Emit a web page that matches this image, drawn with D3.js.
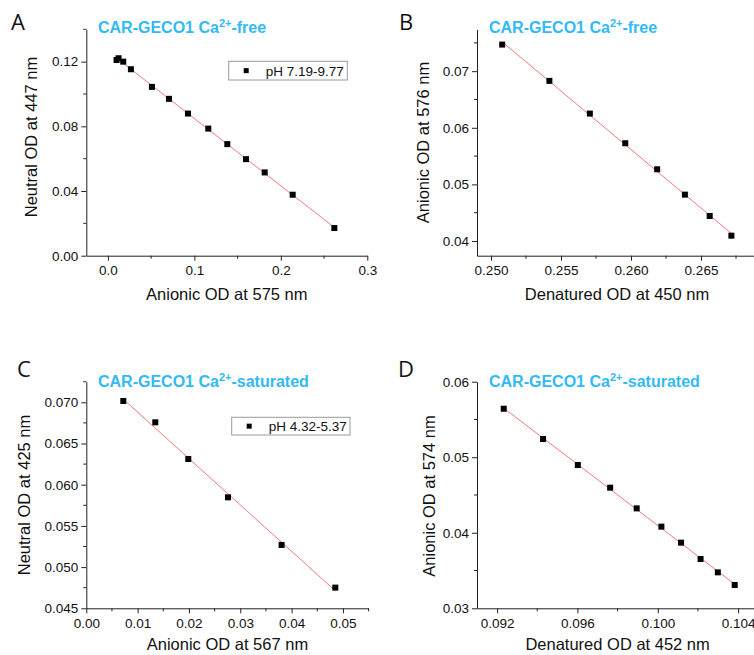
<!DOCTYPE html>
<html>
<head>
<meta charset="utf-8">
<script src="https://cdn.jsdelivr.net/npm/d3@7"></script>
<style>
  body { margin: 0; background: #fff; }
  svg { display: block; }
  text { font-family: "Liberation Sans", Arial, sans-serif; fill: #111; }
</style>
</head>
<body>
<div id="chart"></div>
<script>
// Panel A: neutral vs anionic OD, Ca2+-free, pH 7.19-9.77
const aX = [0.0100, 0.0123, 0.0177, 0.0266, 0.0509, 0.0706, 0.0926, 0.1161, 0.1381, 0.1597, 0.1813, 0.2137, 0.2619];
const aY = [0.1210, 0.1221, 0.1200, 0.1153, 0.1044, 0.0970, 0.0879, 0.0786, 0.0690, 0.0597, 0.0515, 0.0377, 0.0171];

// Panel B: anionic vs denatured OD, Ca2+-free
const bX = [0.2508, 0.25417, 0.25706, 0.25959, 0.26187, 0.26385, 0.26562, 0.26717];
const bY = [0.0747, 0.06829, 0.06251, 0.05727, 0.05267, 0.04819, 0.04442, 0.04094];

// Panel C: neutral vs anionic OD, Ca2+-saturated, pH 4.32-5.37
const cX = [0.00721, 0.01344, 0.01987, 0.02760, 0.03805, 0.04851];
const cY = [0.07016, 0.06757, 0.06312, 0.05847, 0.05269, 0.04751];

// Panel D: anionic vs denatured OD, Ca2+-saturated
const dX = [0.09233, 0.09429, 0.09602, 0.09763, 0.09895, 0.10018, 0.10116, 0.10213, 0.10299, 0.10383];
const dY = [0.05642, 0.05241, 0.04897, 0.04597, 0.04323, 0.04081, 0.03869, 0.03653, 0.03476, 0.03309];

// tick values
const aXTicks = [0, 0.1, 0.2, 0.3], aXMinor = [0.05, 0.15, 0.25];
const aYTicks = [0, 0.04, 0.08, 0.12], aYMinor = [0.02, 0.06, 0.10, 0.14];
const bXTicks = [0.250, 0.255, 0.260, 0.265], bXMinor = [0.2525, 0.2575, 0.2625, 0.2675];
const bYTicks = [0.04, 0.05, 0.06, 0.07], bYMinor = [0.045, 0.055, 0.065, 0.075];
const cXTicks = [0, 0.01, 0.02, 0.03, 0.04, 0.05], cXMinor = [0.005, 0.015, 0.025, 0.035, 0.045, 0.055];
const cYTicks = [0.045, 0.050, 0.055, 0.060, 0.065, 0.070], cYMinor = [0.0475, 0.0525, 0.0575, 0.0625, 0.0675, 0.0725];
const dXTicks = [0.092, 0.096, 0.100, 0.104], dXMinor = [0.094, 0.098, 0.102];
const dYTicks = [0.03, 0.04, 0.05, 0.06], dYMinor = [0.035, 0.045, 0.055];

const width = 754, height = 655;
const titleColor = "#33b9f5";
const fontFam = "'Liberation Sans', Arial, sans-serif";

const svg = d3.select("#chart")
    .append("svg")
    .attr("width", width)
    .attr("height", height);

// simple least squares fit for the red line
function fitLine(xs, ys) {
    const n = xs.length;
    const mx = d3.mean(xs), my = d3.mean(ys);
    let sxy = 0, sxx = 0;
    for (let i = 0; i < n; i++) {
        sxy += (xs[i] - mx) * (ys[i] - my);
        sxx += (xs[i] - mx) * (xs[i] - mx);
    }
    const slope = sxy / sxx;
    return x => my + slope * (x - mx);
}

function drawPanel(p) {
    const g = svg.append("g");
    const x = d3.scaleLinear().domain(p.xDomain).range([p.left, p.right]);
    const y = d3.scaleLinear().domain(p.yDomain).range([p.bottom, p.top]);

    // axes, outward ticks
    const xAxis = g.append("g")
        .attr("transform", `translate(0,${p.bottom})`)
        .call(d3.axisBottom(x).tickValues(p.xTicks).tickFormat(d3.format(p.xFmt)).tickSize(5).tickSizeOuter(0));
    const yAxis = g.append("g")
        .attr("transform", `translate(${p.left},0)`)
        .call(d3.axisLeft(y).tickValues(p.yTicks).tickFormat(d3.format(p.yFmt)).tickSize(5).tickSizeOuter(0));

    [xAxis, yAxis].forEach(ax => {
        ax.attr("font-family", fontFam);
        ax.select(".domain").attr("stroke", "#222").attr("stroke-width", 1);
        ax.selectAll(".tick line").attr("stroke", "#222");
        ax.selectAll(".tick text")
            .style("font-family", fontFam)
            .style("font-size", "13.5px")
            .attr("fill", "#111");
    });
    xAxis.selectAll(".tick text").attr("dy", "1.0em").attr("y", 6);
    yAxis.selectAll(".tick text").attr("x", -8);

    // minor ticks
    g.append("g").selectAll("line")
        .data(p.xMinor)
        .join("line")
        .attr("x1", d => x(d)).attr("x2", d => x(d))
        .attr("y1", p.bottom).attr("y2", p.bottom + 3)
        .attr("stroke", "#222");
    g.append("g").selectAll("line")
        .data(p.yMinor)
        .join("line")
        .attr("y1", d => y(d)).attr("y2", d => y(d))
        .attr("x1", p.left).attr("x2", p.left - 3)
        .attr("stroke", "#222");

    // fitted line
    const f = fitLine(p.xs, p.ys);
    const x0 = d3.min(p.xs), x1 = d3.max(p.xs);
    g.append("line")
        .attr("x1", x(x0)).attr("y1", y(f(x0)))
        .attr("x2", x(x1)).attr("y2", y(f(x1)))
        .attr("stroke", "#f26a6a")
        .attr("stroke-width", 0.9);

    // points
    g.append("g").selectAll("rect")
        .data(p.xs.map((v, i) => [v, p.ys[i]]))
        .join("rect")
        .attr("x", d => x(d[0]) - 3)
        .attr("y", d => y(d[1]) - 3)
        .attr("width", 6)
        .attr("height", 6)
        .attr("fill", "#000");

    // axis titles
    g.append("text")
        .attr("x", (p.left + p.right) / 2)
        .attr("y", p.xTitleY)
        .attr("text-anchor", "middle")
        .style("font-size", "16.5px")
        .text(p.xTitle);
    g.append("text")
        .attr("transform", `translate(${p.yTitleX},${p.yTitleMid}) rotate(-90)`)
        .attr("text-anchor", "middle")
        .style("font-size", "16.5px")
        .text(p.yTitle);

    // blue title with superscript
    const t = g.append("text")
        .attr("x", p.titleX)
        .attr("y", p.titleY)
        .style("font-size", "16px")
        .style("font-weight", "bold")
        .style("fill", titleColor);
    t.append("tspan").text("CAR-GECO1 Ca");
    t.append("tspan").attr("dy", -6).style("font-size", "11px").text("2+");
    t.append("tspan").attr("dy", 6).text(p.titleTail);

    // panel letter
    g.append("text")
        .attr("x", p.letterX)
        .attr("y", p.letterY)
        .style("font-family", "'Open Sans', 'Liberation Sans', sans-serif")
        .style("font-size", "22px")
        .text(p.letter);

    // legend
    if (p.legend) {
        const L = p.legend;
        g.append("rect")
            .attr("x", L.x).attr("y", L.y)
            .attr("width", L.w).attr("height", L.h)
            .attr("fill", "#fff")
            .attr("stroke", "#9a9a9a")
            .attr("stroke-width", 1);
        g.append("rect")
            .attr("x", L.x + 15).attr("y", L.y + L.h / 2 - 2.5)
            .attr("width", 5).attr("height", 5)
            .attr("fill", "#000");
        g.append("text")
            .attr("x", L.x + 37)
            .attr("y", L.y + L.h / 2 + 5)
            .style("font-size", "13.5px")
            .text(L.text);
    }
}

drawPanel({
    letter: "A", letterX: 11, letterY: 30,
    titleX: 98, titleY: 33, titleTail: "-free",
    left: 86.3, right: 367.3, top: 29.3, bottom: 255.7,
    xDomain: [-0.025, 0.3], yDomain: [0, 0.14],
    xTicks: aXTicks, xMinor: aXMinor, xFmt: ".1f",
    yTicks: aYTicks, yMinor: aYMinor, yFmt: ".2f",
    xs: aX, ys: aY,
    xTitle: "Anionic OD at 575 nm", xTitleY: 300,
    yTitle: "Neutral OD at 447 nm", yTitleX: 36.5, yTitleMid: 137,
    legend: { x: 228.7, y: 61.3, w: 118.6, h: 18.7, text: "pH 7.19-9.77" }
});

drawPanel({
    letter: "B", letterX: 399, letterY: 30,
    titleX: 489, titleY: 33, titleTail: "-free",
    left: 477, right: 757, top: 29.3, bottom: 255.7,
    xDomain: [0.249, 0.269], yDomain: [0.0374, 0.0774],
    xTicks: bXTicks, xMinor: bXMinor, xFmt: ".3f",
    yTicks: bYTicks, yMinor: bYMinor, yFmt: ".2f",
    xs: bX, ys: bY,
    xTitle: "Denatured OD at 450 nm", xTitleY: 300,
    yTitle: "Anionic OD at 576 nm", yTitleX: 429, yTitleMid: 142.5
});

drawPanel({
    letter: "C", letterX: 17, letterY: 377,
    titleX: 98, titleY: 386.7, titleTail: "-saturated",
    left: 86.3, right: 368.6, top: 381.7, bottom: 608.3,
    xDomain: [0, 0.055], yDomain: [0.045, 0.0725],
    xTicks: cXTicks, xMinor: cXMinor, xFmt: ".2f",
    yTicks: cYTicks, yMinor: cYMinor, yFmt: ".3f",
    xs: cX, ys: cY,
    xTitle: "Anionic OD at 567 nm", xTitleY: 650,
    yTitle: "Neutral OD at 425 nm", yTitleX: 30, yTitleMid: 495,
    legend: { x: 231.7, y: 417.3, w: 118.3, h: 17.7, text: "pH 4.32-5.37" }
});

drawPanel({
    letter: "D", letterX: 398, letterY: 377,
    titleX: 489, titleY: 386.7, titleTail: "-saturated",
    left: 477, right: 758.2, top: 381.7, bottom: 608.3,
    xDomain: [0.091, 0.105], yDomain: [0.03, 0.06],
    xTicks: dXTicks, xMinor: dXMinor, xFmt: ".3f",
    yTicks: dYTicks, yMinor: dYMinor, yFmt: ".2f",
    xs: dX, ys: dY,
    xTitle: "Denatured OD at 452 nm", xTitleY: 650,
    yTitle: "Anionic OD at 574 nm", yTitleX: 435, yTitleMid: 496
});
</script>
</body>
</html>
